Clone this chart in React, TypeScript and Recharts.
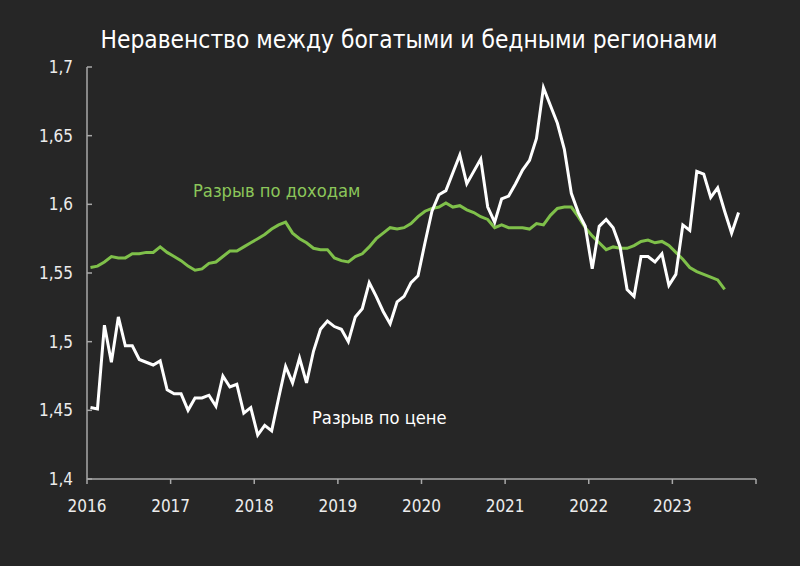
import { LineChart, Line, XAxis, YAxis } from 'recharts'

// monthly values, Jan 2016 onwards
const priceGap = [
  1.452, 1.451, 1.512, 1.485, 1.518, 1.497, 1.497, 1.487, 1.485, 1.483, 1.486, 1.465,
  1.462, 1.462, 1.450, 1.459, 1.459, 1.461, 1.453, 1.475, 1.467, 1.469, 1.448, 1.452,
  1.432, 1.439, 1.435, 1.459, 1.482, 1.470, 1.488, 1.470, 1.493, 1.509, 1.515, 1.511,
  1.509, 1.500, 1.518, 1.524, 1.543, 1.533, 1.522, 1.513, 1.529, 1.533, 1.543, 1.548,
  1.572, 1.595, 1.607, 1.610, 1.623, 1.636, 1.615, 1.624, 1.633, 1.598, 1.587, 1.604,
  1.606, 1.615, 1.625, 1.632, 1.648, 1.685, 1.672, 1.659, 1.640, 1.608, 1.594, 1.584,
  1.553, 1.584, 1.589, 1.583, 1.569, 1.538, 1.533, 1.562, 1.562, 1.558, 1.564, 1.541,
  1.549, 1.585, 1.581, 1.624, 1.622, 1.605, 1.612, 1.595, 1.579, 1.594,
]

const incomeGap = [
  1.554, 1.555, 1.558, 1.562, 1.561, 1.561, 1.564, 1.564, 1.565, 1.565, 1.569, 1.565,
  1.562, 1.559, 1.555, 1.552, 1.553, 1.557, 1.558, 1.562, 1.566, 1.566, 1.569, 1.572,
  1.575, 1.578, 1.582, 1.585, 1.587, 1.579, 1.575, 1.572, 1.568, 1.567, 1.567, 1.561,
  1.559, 1.558, 1.562, 1.564, 1.569, 1.575, 1.579, 1.583, 1.582, 1.583, 1.586, 1.591,
  1.595, 1.597, 1.598, 1.601, 1.598, 1.599, 1.596, 1.594, 1.591, 1.589, 1.583, 1.585,
  1.583, 1.583, 1.583, 1.582, 1.586, 1.585, 1.592, 1.597, 1.598, 1.598, 1.591, 1.583,
  1.577, 1.572, 1.567, 1.569, 1.568, 1.568, 1.570, 1.573, 1.574, 1.572, 1.573, 1.570,
  1.565, 1.560, 1.554, 1.551, 1.549, 1.547, 1.545, 1.538,
]

const yearLabels = ['2016', '2017', '2018', '2019', '2020', '2021', '2022', '2023']
const yTicks = [1.4, 1.45, 1.5, 1.55, 1.6, 1.65, 1.7]

const xTicks = [...yearLabels.map((_, i) => i * 12), 96]

const chartData = priceGap.map((v, i) => ({
  m: i + 0.5,
  price: v,
  income: incomeGap[i],
}))

const FONT = '"DejaVu Sans Condensed", "Liberation Sans Narrow", "DejaVu Sans", sans-serif'
const BG = '#262626'
const AXIS = '#a8a8a8'
const TEXT = '#ececec'
const GREEN = '#7fc04a'

function YTick(props: any) {
  const { x, y, payload } = props
  const label = String(payload.value).replace('.', ',')
  return (
    <g>
      <line x1={x + 14} x2={x + 19} y1={y} y2={y} stroke={AXIS} strokeWidth={1.5} />
      <text x={x} y={y} dy={6} textAnchor="end" fill={TEXT} fontSize={17} fontFamily={FONT}>
        {label}
      </text>
    </g>
  )
}

export default function App() {
  return (
    <div style={{ position: 'absolute', left: 0, top: 0, width: 800, height: 566, background: BG, fontFamily: FONT }}>
      <div style={{ position: 'absolute', left: 0, width: 818, top: 25, textAlign: 'center', color: '#ffffff', fontSize: 24.3 }}>
        Неравенство между богатыми и бедными регионами
      </div>
      <LineChart width={800} height={566} data={chartData} margin={{ top: 67, right: 44, bottom: 57, left: 27 }}>
        <XAxis
          dataKey="m"
          type="number"
          domain={[0, 96]}
          ticks={xTicks}
          interval={0}
          tickFormatter={(v: number) => (v < 96 ? yearLabels[v / 12] : '')}
          height={30}
          stroke={AXIS}
          strokeWidth={1.5}
          tickSize={5}
          tickMargin={16}
          tick={{ fill: TEXT, fontSize: 17, fontFamily: FONT }}
        />
        <YAxis
          type="number"
          domain={[1.4, 1.7]}
          ticks={yTicks}
          interval={0}
          width={60}
          stroke={AXIS}
          strokeWidth={1.5}
          tickLine={false}
          tickSize={0}
          tickMargin={14}
          tick={<YTick />}
        />
        <Line dataKey="income" stroke={GREEN} strokeWidth={3} dot={false} isAnimationActive={false} connectNulls={false} />
        <Line dataKey="price" stroke="#ffffff" strokeWidth={3} dot={false} isAnimationActive={false} />
      </LineChart>
      <div style={{ position: 'absolute', left: 193, top: 180, color: '#8cc65a', fontSize: 18.2, whiteSpace: 'nowrap' }}>
        Разрыв по доходам
      </div>
      <div style={{ position: 'absolute', left: 312, top: 407, color: '#ffffff', fontSize: 18.2, whiteSpace: 'nowrap' }}>
        Разрыв по цене
      </div>
    </div>
  )
}
